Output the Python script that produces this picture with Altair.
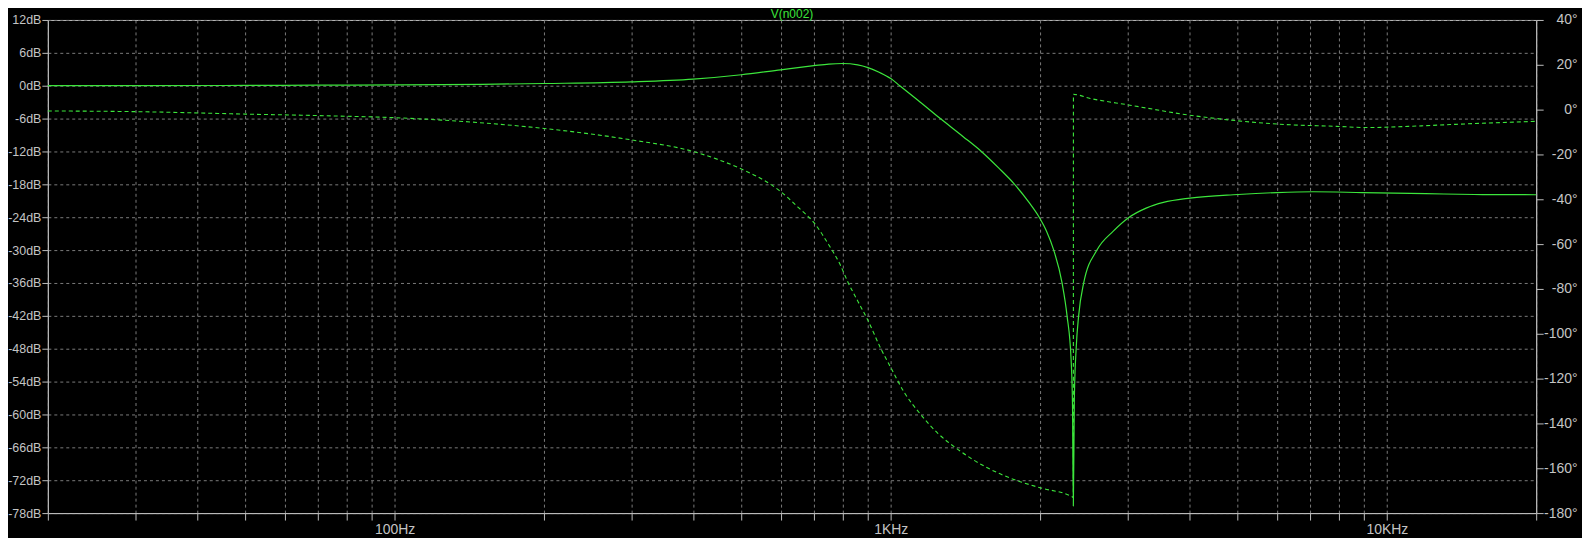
import altair as alt
import pandas as pd

# ---- data (LTspice-style Bode plot of V(n002)) ----
mag_freq = [20, 30, 50, 70, 100, 150, 200, 300, 400, 500, 600, 700, 750, 800, 858,
            900, 950, 1000, 1043, 1133, 1259, 1400, 1523, 1650, 1777, 1900, 1992, 2060,
            2131, 2215, 2267, 2310, 2325, 2334, 2345, 2366, 2392, 2449, 2604, 2813, 3015,
            3281, 3545, 4010, 5013, 6000, 7097, 8936, 11979, 15000, 20000]
mag_db = [0.0, 0.0, 0.05, 0.1, 0.15, 0.25, 0.4, 0.7, 1.2, 2.0, 2.9, 3.65, 3.95, 4.05, 3.8,
          3.3, 2.4, 1.3, 0.0, -2.6, -6.0, -9.3, -12.0, -15.0, -18.0, -21.3, -24.0, -26.5,
          -30.0, -36.0, -42.0, -50.0, -58.5, -76.7, -56.9, -47.6, -42.0, -36.0, -30.0, -26.5, -24.1,
          -22.3, -21.3, -20.5, -19.85, -19.5, -19.35, -19.5, -19.7, -19.85, -19.9]

ph_freq = [20, 30, 50, 75, 100, 148, 200, 300, 400, 500, 557, 594, 650, 703, 750, 789,
           820, 860, 899, 956, 1001, 1065, 1150, 1243, 1352, 1566, 1771, 2000, 2321, 2334,
           2335, 2524, 3015, 4010, 5013, 6077, 8020, 9077, 11262, 13970, 20000]
ph_deg = [-0.6, -0.9, -2.0, -2.8, -3.6, -5.8, -8.4, -13.5, -18.7, -26.5, -31.7, -35.8,
          -43.5, -50.9, -60.3, -68.7, -77.0, -85.8, -93.9, -106.8, -115.2, -126.2, -136.1,
          -144.3, -150.9, -159.8, -165.0, -168.7, -172.7, -173.0,
          6.8, 5.0, 2.1, -2.5, -5.0, -6.5, -7.5, -8.0, -7.4, -6.5, -5.2]

x_ticks = [20, 30, 40, 50, 60, 70, 80, 90,
           100, 200, 300, 400, 500, 600, 700, 800, 900,
           1000, 2000, 3000, 4000, 5000, 6000, 7000, 8000, 9000,
           10000, 20000]
db_ticks = [12, 6, 0, -6, -12, -18, -24, -30, -36, -42, -48, -54, -60, -66, -72, -78]
deg_ticks = [40, 20, 0, -20, -40, -60, -80, -100, -120, -140, -160, -180]
title_text = "V(n002)"

GREEN = "#3ce63c"
TEXT = "#c4c4c4"
BORDER = "#bdbdbd"
GRID = "#7a7a7a"
FONT = "Liberation Sans"

mag_df = pd.DataFrame({"f": mag_freq, "db": mag_db})
ph_df = pd.DataFrame({"f": ph_freq, "deg": ph_deg})

x_scale = alt.Scale(type="log", domain=[20, 20000], nice=False)
x_axis = alt.Axis(
    values=x_ticks, title=None, grid=True, tickSize=7, labelPadding=2,
    labelFontSize=14, labelOverlap=False, labelFlush=False,
    labelExpr="datum.value == 100 ? '100Hz' : datum.value == 1000 ? '1KHz' : datum.value == 10000 ? '10KHz' : ''",
)

mag = alt.Chart(mag_df).mark_line(color=GREEN, strokeWidth=1.2, interpolate="monotone").encode(
    x=alt.X("f:Q", scale=x_scale, axis=x_axis),
    y=alt.Y("db:Q", scale=alt.Scale(domain=[-78, 12], nice=False, zero=False),
            axis=alt.Axis(values=db_ticks, title=None, grid=True, orient="left",
                          tickSize=6, labelPadding=1, labelFontSize=12.5,
                          labelOverlap=False, labelExpr="datum.value + 'dB'")),
)

phase = alt.Chart(ph_df).mark_line(color=GREEN, strokeWidth=1.1, strokeDash=[4, 3],
                                   interpolate="monotone").encode(
    x=alt.X("f:Q", scale=x_scale, axis=x_axis),
    y=alt.Y("deg:Q", scale=alt.Scale(domain=[-180, 40], nice=False, zero=False),
            axis=alt.Axis(values=deg_ticks, title=None, grid=False, orient="right",
                          tickSize=7, labelPadding=34, labelAlign="right",
                          labelFontSize=14, labelOverlap=False,
                          labelExpr="datum.value + '°'")),
)

title = alt.Chart(pd.DataFrame({"t": [title_text]})).mark_text(
    color=GREEN, font=FONT, fontSize=12, align="center", baseline="alphabetic"
).encode(
    text="t:N",
    x=alt.value(747),
    y=alt.value(-1.5),
)

chart = alt.layer(mag, phase, title).resolve_scale(y="independent").properties(
    width=1494, height=495,
    autosize=alt.AutoSizeParams(type="none"),
    padding={"left": 40, "top": 11, "right": 46, "bottom": 24},
    background="#000000",
).configure_view(
    stroke=BORDER, strokeWidth=1, fill="#000000"
).configure_axis(
    domainColor=BORDER, tickColor=BORDER, labelColor=TEXT, labelFont=FONT,
    gridColor=GRID, gridDash=[3, 3], gridWidth=1, gridOpacity=1,
    domainWidth=1, tickWidth=1,
)

chart.save("out.html", embed_options={"renderer": "svg", "actions": False})
